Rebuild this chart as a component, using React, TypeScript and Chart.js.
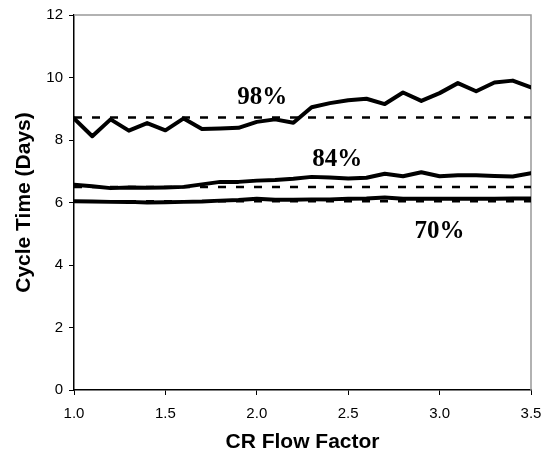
import React, { useEffect, useRef } from "react";
import { Chart, registerables } from "chart.js";

Chart.register(...registerables);

const flowFactor = [1.0, 1.1, 1.2, 1.3, 1.4, 1.5, 1.6, 1.7, 1.8, 1.9, 2.0, 2.1, 2.2, 2.3, 2.4, 2.5, 2.6, 2.7, 2.8, 2.9, 3.0, 3.1, 3.2, 3.3, 3.4, 3.5];
const ct98 = [8.69, 8.12, 8.66, 8.3, 8.54, 8.31, 8.69, 8.35, 8.37, 8.39, 8.58, 8.66, 8.55, 9.05, 9.18, 9.27, 9.32, 9.15, 9.52, 9.25, 9.5, 9.82, 9.56, 9.84, 9.9, 9.68];
const ct84 = [6.57, 6.52, 6.46, 6.48, 6.47, 6.48, 6.5, 6.58, 6.66, 6.66, 6.7, 6.72, 6.76, 6.82, 6.8, 6.77, 6.79, 6.92, 6.84, 6.97, 6.84, 6.87, 6.87, 6.85, 6.83, 6.94];
const ct70 = [6.04, 6.03, 6.02, 6.02, 6.0, 6.01, 6.02, 6.03, 6.06, 6.08, 6.12, 6.09, 6.09, 6.1, 6.1, 6.12, 6.13, 6.16, 6.12, 6.12, 6.12, 6.12, 6.12, 6.12, 6.13, 6.13];
const targetLevels = [8.72, 6.5, 6.04];
const seriesLabels = ["98%", "84%", "70%"];
const labelPos = [
  [2.03, 9.36],
  [2.44, 7.38],
  [3.0, 5.07],
];
const xTicks = [1.0, 1.5, 2.0, 2.5, 3.0, 3.5];

const frameAndLabels = {
  id: "frameAndLabels",
  beforeDatasetsDraw(chart: any) {
    const { ctx, chartArea } = chart;
    ctx.save();
    ctx.strokeStyle = "#999999";
    ctx.lineWidth = 1.5;
    ctx.beginPath();
    ctx.moveTo(chartArea.left, chartArea.top);
    ctx.lineTo(chartArea.right, chartArea.top);
    ctx.lineTo(chartArea.right, chartArea.bottom);
    ctx.stroke();
    ctx.restore();
  },
  afterDatasetsDraw(chart: any) {
    const { ctx, scales } = chart;
    ctx.save();
    ctx.fillStyle = "#000";
    ctx.font = "bold 25px 'Liberation Serif', 'Times New Roman', serif";
    ctx.textAlign = "center";
    ctx.textBaseline = "middle";
    seriesLabels.forEach((t, i) => {
      const x = scales.x.getPixelForValue(labelPos[i][0]);
      const y = scales.y.getPixelForValue(labelPos[i][1]);
      ctx.fillText(t, x, y);
    });
    ctx.restore();
  },
};

export default function App() {
  const ref = useRef<HTMLCanvasElement>(null);
  useEffect(() => {
    document.body.style.margin = "0";
    const solid = (vals: number[]) => ({
      data: flowFactor.map((x, i) => ({ x, y: vals[i] })),
      borderColor: "#000",
      borderWidth: 4,
      pointRadius: 0,
      tension: 0,
      borderJoinStyle: "round" as const,
      borderCapStyle: "round" as const,
    });
    const dashed = (v: number) => ({
      data: [
        { x: flowFactor[0], y: v },
        { x: flowFactor[flowFactor.length - 1], y: v },
      ],
      borderColor: "#000",
      borderWidth: 2.5,
      borderDash: [8, 10],
      pointRadius: 0,
    });
    const chart = new Chart(ref.current!, {
      type: "line",
      data: {
        datasets: [
          dashed(targetLevels[0]),
          dashed(targetLevels[1]),
          dashed(targetLevels[2]),
          solid(ct98),
          solid(ct84),
          solid(ct70),
        ] as any,
      },
      options: {
        animation: false,
        responsive: false,
        layout: { padding: { top: 13, right: 24, left: 0, bottom: 0 } },
        plugins: { legend: { display: false }, tooltip: { enabled: false } },
        scales: {
          x: {
            type: "linear",
            min: 1,
            max: 3.5,
            afterBuildTicks: (s: any) => {
              s.ticks = xTicks.map((v) => ({ value: v }));
            },
            afterFit: (s: any) => {
              s.height = 65;
            },
            ticks: {
              color: "#000",
              font: { family: "'Liberation Sans', Arial, sans-serif", size: 15 },
              padding: 10,
              maxRotation: 0,
              callback: (v: any) => Number(v).toFixed(1),
            },
            grid: { drawOnChartArea: false, drawTicks: true, tickLength: 5, color: "#000" },
            border: { color: "#000", width: 1.5 },
            title: {
              display: true,
              text: "CR Flow Factor",
              color: "#000",
              font: { family: "'Liberation Sans', Arial, sans-serif", size: 21, weight: "bold" },
              padding: { top: 4, bottom: 0 },
            },
          },
          y: {
            min: 0,
            max: 12,
            afterFit: (s: any) => {
              s.width = 74;
            },
            ticks: {
              stepSize: 2,
              color: "#000",
              font: { family: "'Liberation Sans', Arial, sans-serif", size: 15 },
              padding: 6,
            },
            grid: { drawOnChartArea: false, drawTicks: true, tickLength: 5, color: "#000" },
            border: { color: "#000", width: 1.5 },
            title: {
              display: true,
              text: "Cycle Time (Days)",
              color: "#000",
              font: { family: "'Liberation Sans', Arial, sans-serif", size: 21, weight: "bold" },
              padding: { top: 12, bottom: 0 },
            },
          },
        },
      } as any,
      plugins: [frameAndLabels],
    });
    return () => chart.destroy();
  }, []);
  return <canvas ref={ref} width={555} height={455} style={{ display: "block" }} />;
}
